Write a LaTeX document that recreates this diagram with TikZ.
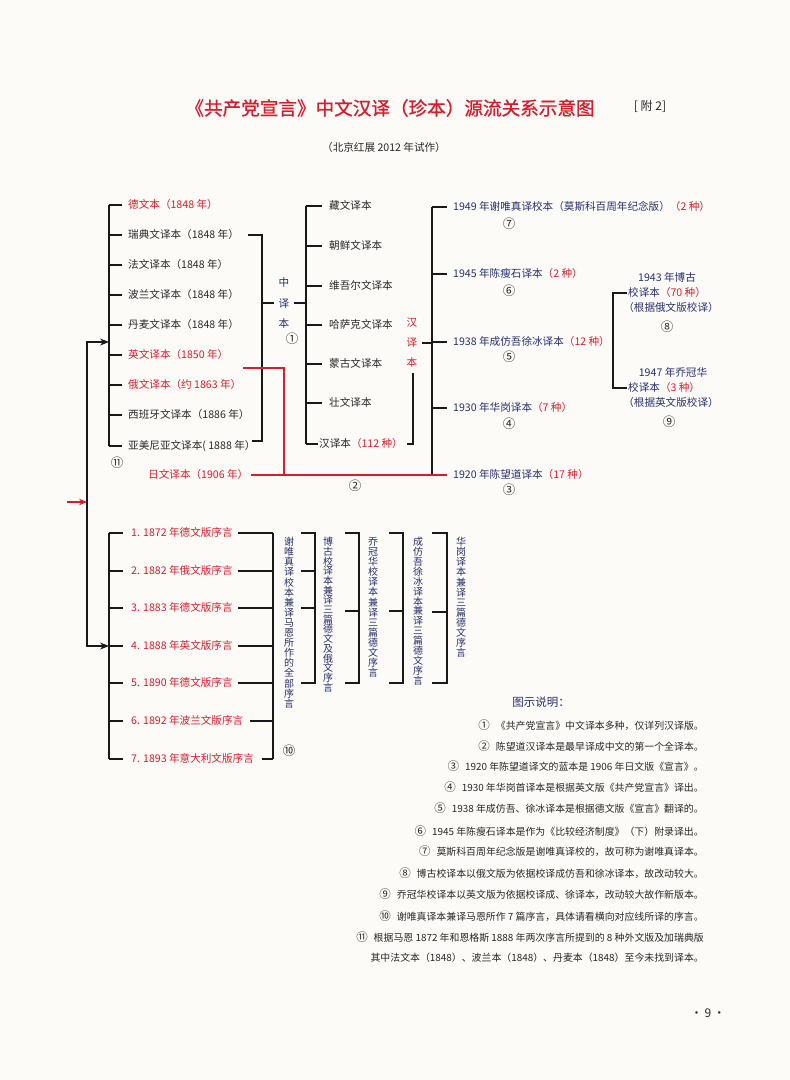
\documentclass[tikz,border=0pt]{standalone}
\usepackage{fontspec}
\setmainfont{Noto Sans CJK SC}
\newfontfamily\titlefont[FakeBold=1]{Noto Sans CJK SC}
\usetikzlibrary{arrows.meta}
\definecolor{bgc}{RGB}{253,251,248}
\definecolor{myred}{RGB}{212,30,45}
\definecolor{navy}{RGB}{38,48,110}
\definecolor{ink}{RGB}{40,40,40}
\definecolor{linec}{RGB}{25,25,25}
\newcommand\vstk[2]{\vbox{\baselineskip=#1\lineskiplimit=-50pt\lineskip=0pt\vstkaux#2\relax}}
\def\vstkaux#1{\ifx\relax#1\else\hbox to 1em{\hss#1\hss}\expandafter\vstkaux\fi}
\newcommand\cn[1]{{\fontsize{11.5pt}{12pt}\selectfont #1}}
\tikzset{
  txt/.style={inner sep=0pt,text height=0.88em,text depth=0.12em,font=\fontsize{10.6pt}{12pt}\selectfont,text=ink,anchor=west},
  rtxt/.style={txt,text=myred},
  btxt/.style={txt,text=navy},
  num/.style={inner sep=0pt,font=\fontsize{12.5pt}{13pt}\selectfont,text=ink},
  ln/.style={draw=linec,line width=1.2pt},
  rln/.style={draw=myred,line width=1.2pt},
  vt/.style={inner sep=0pt,anchor=north,text=navy,font=\fontsize{10pt}{10pt}\selectfont},
  vcol/.style={inner sep=0pt,font=\fontsize{10.6pt}{12pt}\selectfont},
  leg/.style={inner sep=0pt,anchor=east,text=ink,font=\fontsize{9.9pt}{12pt}\selectfont,text height=0.88em,text depth=0.12em},
  tip/.style={{Stealth[length=9pt,width=7pt]}-{Stealth[length=9pt,width=7pt]}}
}
\begin{document}
\begin{tikzpicture}[x=1pt,y=-1pt]
\fill[bgc] (0,0) rectangle (790,1080);

% title
\node[font=\titlefont\fontsize{18.6pt}{20pt}\selectfont,text=myred] (title) at (390,108) {《共产党宣言》中文汉译（珍本）源流关系示意图};
\node[font=\fontsize{12pt}{14pt}\selectfont,text=ink] (fu) at (650,106) {[ 附 2]};
\node[txt,anchor=center] (sub) at (384,148) {（北京红展 2012 年试作）};

% top-left group
\node[rtxt] (n1) at (128,205) {德文本（1848 年）};
\node[txt]  (n2) at (128,235) {瑞典文译本（1848 年）};
\node[txt]  (n3) at (128,265) {法文译本（1848 年）};
\node[txt]  (n4) at (128,295) {波兰文译本（1848 年）};
\node[txt]  (n5) at (128,325) {丹麦文译本（1848 年）};
\node[rtxt] (n6) at (128,355) {英文译本（1850 年）};
\node[rtxt] (n7) at (128,385) {俄文译本（约 1863 年）};
\node[txt]  (n8) at (128,415) {西班牙文译本（1886 年）};
\node[txt]  (n9) at (128,446) {亚美尼亚文译本( 1888 年）};
\node[num] (c11) at (117,463) {⑪};
\node[rtxt] (n10) at (148,475) {日文译本（1906 年）};

\draw[ln] (109,0 |- n1.west) -- (109,0 |- n9.west);
\foreach \n in {n1,n2,n3,n4,n5,n6,n7,n8,n9}
  \draw[ln] (109,0 |- \n.west) -- ([xshift=-6pt]\n.west);

% bracket to 中译本
\node[vcol,text=navy] (zh) at (284,303) {\vstk{20.5pt}{中译本}};
\node[num] (c1) at (292,339) {①};
\draw[ln] (248,0 |- n2.west) -- (262,0 |- n2.west) -- (262,441) -- (252,441);
\draw[ln] (262,0 |- zh.center) -- ([xshift=-5pt]zh.west);
\draw[ln] ([xshift=4pt]zh.east) -- (306,0 |- zh.east);

% middle column
\node[txt] (m1) at (329,206) {藏文译本};
\node[txt] (m2) at (329,246) {朝鲜文译本};
\node[txt] (m3) at (329,286) {维吾尔文译本};
\node[txt] (m4) at (329,325) {哈萨克文译本};
\node[txt] (m5) at (329,364) {蒙古文译本};
\node[txt] (m6) at (329,403) {壮文译本};
\node[txt] (m7) at (319,444) {汉译本\textcolor{myred}{（112 种）}};
\draw[ln] (306,0 |- m1.west) -- (306,0 |- m7.west);
\foreach \n in {m1,m2,m3,m4,m5,m6}
  \draw[ln] (306,0 |- \n.west) -- ([xshift=-7pt]\n.west);
\draw[ln] (306,0 |- m7.west) -- ([xshift=-1pt]m7.west);

% 汉译本 vertical
\node[vcol,text=myred] (han) at (412,343) {\vstk{20pt}{汉译本}};
\draw[ln] ([xshift=4pt]m7.east) -- (413,0 |- m7.east) -- (413,373);
\draw[ln] ([xshift=4pt]han.east) -- (432,0 |- han.east);

% right column
\node[btxt] (r1) at (453,207) {1949 年谢唯真译校本（莫斯科百周年纪念版）\textcolor{myred}{（2 种）}};
\node[btxt] (r2) at (453,274) {1945 年陈瘦石译本\textcolor{myred}{（2 种）}};
\node[btxt] (r3) at (453,342) {1938 年成仿吾徐冰译本\textcolor{myred}{（12 种）}};
\node[btxt] (r4) at (453,408) {1930 年华岗译本\textcolor{myred}{（7 种）}};
\node[btxt] (r5) at (453,475) {1920 年陈望道译本\textcolor{myred}{（17 种）}};
\node[num] (c7) at (509,224) {⑦};
\node[num] (c6) at (509,291) {⑥};
\node[num] (c5) at (509,357) {⑤};
\node[num] (c4) at (509,424) {④};
\node[num] (c3) at (509,490) {③};
\draw[ln] (432,0 |- r1.west) -- (432,0 |- r5.west);
\foreach \n in {r1,r2,r3,r4}
  \draw[ln] (432,0 |- \n.west) -- ([xshift=-6pt]\n.west);

% red lines
\coordinate (eng) at (243,368);
\draw[rln] (eng) -- (284,368) -- (284,0 |- n10.east);
\draw[rln] ([xshift=2pt]n10.east) -- ([xshift=-6pt]r5.west);
\node[num] (c2) at (355,486) {②};

% sub bracket
\node[btxt,anchor=center] (s1) at (667,278) {1943 年博古};
\node[btxt] (s1b) at (628,293) {校译本\textcolor{myred}{（70 种）}};
\node[btxt,anchor=center] (s1c) at (671,308) {（根据俄文版校译）};
\node[num] (c8) at (667,327) {⑧};
\node[btxt,anchor=center] (s2) at (673,373) {1947 年乔冠华};
\node[btxt] (s2b) at (628,388) {校译本\textcolor{myred}{（3 种）}};
\node[btxt,anchor=center] (s2c) at (671,403) {（根据英文版校译）};
\node[num] (c9) at (669,422) {⑨};
\draw[ln] ([xshift=2pt]r3.east) -- (613,0 |- r3.east);
\draw[ln] ([xshift=-1pt]s1b.west) -- (613,0 |- s1b.west) -- (613,0 |- s2b.west) -- ([xshift=-1pt]s2b.west);

% arrows
\coordinate (ja) at (87,342);
\coordinate (jb) at (87,646);
\coordinate (ra) at (67,502);
\draw[ln,tip] (109,0 |- ja) -- (ja) -- (jb) -- (109,0 |- jb);
\draw[rln,-{Stealth[length=8pt,width=6.5pt]}] (ra) -- (ja |- ra);

% bottom group
\node[rtxt] (p1) at (131,533) {1. 1872 年德文版序言};
\node[rtxt] (p2) at (131,571) {2. 1882 年俄文版序言};
\node[rtxt] (p3) at (131,608) {3. 1883 年德文版序言};
\node[rtxt] (p4) at (131,646) {4. 1888 年英文版序言};
\node[rtxt] (p5) at (131,683) {5. 1890 年德文版序言};
\node[rtxt] (p6) at (131,721) {6. 1892 年波兰文版序言};
\node[rtxt] (p7) at (131,759) {7. 1893 年意大利文版序言};
\draw[ln] (109,0 |- p1.west) -- (109,0 |- p7.west);
\foreach \n in {p1,p2,p3,p4,p5,p6,p7}
  \draw[ln] (109,0 |- \n.west) -- ([xshift=-8pt]\n.west);
\draw[ln] (273,0 |- p1.west) -- (273,0 |- p7.west);
\foreach \n in {p1,p2,p3,p4,p5}
  \draw[ln] (238,0 |- \n.west) -- (273,0 |- \n.west);
\draw[ln] (250,0 |- p6.west) -- (273,0 |- p6.west);
\draw[ln] (262,0 |- p7.west) -- (273,0 |- p7.west);

% vertical texts and brackets
\node[vt] (v1) at (289,537) {\vstk{10.1pt}{谢唯真译校本兼译马恩所作的全部序言}};
\node[num] (c10) at (289,751) {⑩};
\draw[ln] (301,0 |- p1.west) -- (315,0 |- p1.west) -- (315,0 |- p5.west) -- (301,0 |- p5.west);
\draw[ln] (301,0 |- p2.west) -- (315,0 |- p2.west);
\draw[ln] (301,0 |- p3.west) -- (315,0 |- p3.west);
\node[vt] (v2) at (328,537) {\vstk{9.7pt}{博古校译本兼译三篇德文及俄文序言}};
\draw[ln] (345,0 |- p1.west) -- (359,0 |- p1.west) -- (359,0 |- p5.west) -- (345,0 |- p5.west);
\draw[ln] (345,611) -- (359,611);
\node[vt] (v3) at (373,537) {\vstk{10.1pt}{乔冠华校译本兼译三篇德文序言}};
\draw[ln] (389,0 |- p1.west) -- (403,0 |- p1.west) -- (403,0 |- p5.west) -- (389,0 |- p5.west);
\draw[ln] (389,611) -- (403,611);
\node[vt] (v4) at (418,537) {\vstk{9.9pt}{成仿吾徐冰译本兼译三篇德文序言}};
\draw[ln] (432,0 |- p1.west) -- (447,0 |- p1.west) -- (447,0 |- p5.west) -- (432,0 |- p5.west);
\draw[ln] (432,612) -- (447,612);
\node[vt] (v5) at (461,537) {\vstk{10.1pt}{华岗译本兼译三篇德文序言}};

% legend
\node[btxt,anchor=center,font=\fontsize{11.5pt}{13pt}\selectfont] (legt) at (541,703) {图示说明：};
\node[leg] (l1) at (704,726) {\cn{①}\hspace{0.6em}《共产党宣言》中文译本多种，仅详列汉译版。};
\node[leg] (l2) at (704,747) {\cn{②}\hspace{0.6em}陈望道汉译本是最早译成中文的第一个全译本。};
\node[leg] (l3) at (704,767) {\cn{③}\hspace{0.6em}1920 年陈望道译文的蓝本是 1906 年日文版《宣言》。};
\node[leg] (l4) at (704,788) {\cn{④}\hspace{0.6em}1930 年华岗首译本是根据英文版《共产党宣言》译出。};
\node[leg] (l5) at (704,809) {\cn{⑤}\hspace{0.6em}1938 年成仿吾、徐冰译本是根据德文版《宣言》翻译的。};
\node[leg] (l6) at (704,832) {\cn{⑥}\hspace{0.6em}1945 年陈瘦石译本是作为《比较经济制度》（下）附录译出。};
\node[leg] (l7) at (704,852) {\cn{⑦}\hspace{0.6em}莫斯科百周年纪念版是谢唯真译校的，故可称为谢唯真译本。};
\node[leg] (l8) at (704,874) {\cn{⑧}\hspace{0.6em}博古校译本以俄文版为依据校译成仿吾和徐冰译本，故改动较大。};
\node[leg] (l9) at (704,895) {\cn{⑨}\hspace{0.6em}乔冠华校译本以英文版为依据校译成、徐译本，改动较大故作新版本。};
\node[leg] (l10) at (704,917) {\cn{⑩}\hspace{0.6em}谢唯真译本兼译马恩所作 7 篇序言，具体请看横向对应线所译的序言。};
\node[leg] (l11) at (704,938) {\cn{⑪}\hspace{0.6em}根据马恩 1872 年和恩格斯 1888 年两次序言所提到的 8 种外文版及加瑞典版};
\node[leg] (l12) at (704,958) {其中法文本（1848）、波兰本（1848）、丹麦本（1848）至今未找到译本。};

\node[font=\fontsize{12pt}{14pt}\selectfont,text=ink] (pg) at (708,1013) {·\,9\,·};
\end{tikzpicture}
\end{document}
